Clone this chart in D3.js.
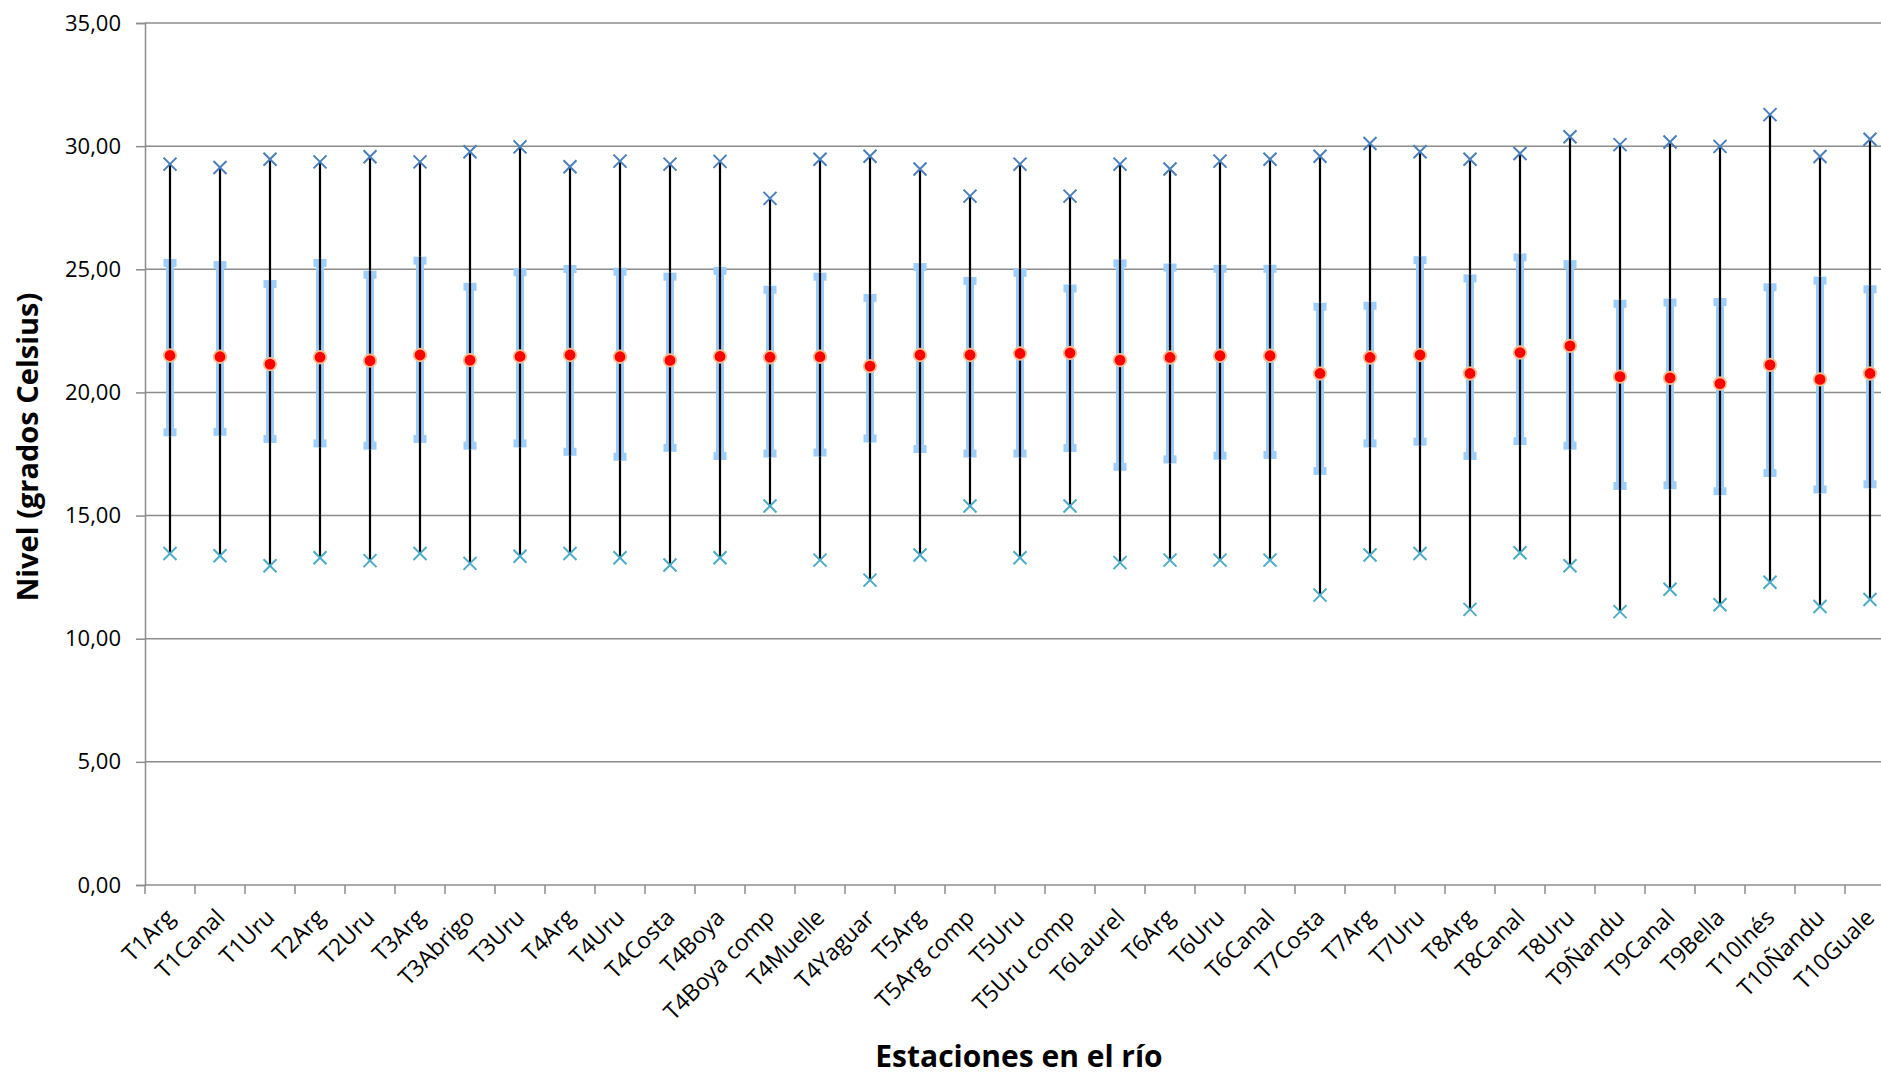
<!DOCTYPE html>
<html>
<head>
<meta charset="utf-8">
<script src="https://cdn.jsdelivr.net/npm/d3@7"></script>
<style>
  html, body { margin: 0; padding: 0; background: #fff; }
  svg { display: block; }
</style>
</head>
<body>
<svg id="chart" width="1881" height="1078"></svg>
<script>
const categories = ["T1Arg","T1Canal","T1Uru","T2Arg","T2Uru","T3Arg","T3Abrigo","T3Uru","T4Arg","T4Uru","T4Costa","T4Boya","T4Boya comp","T4Muelle","T4Yaguar","T5Arg","T5Arg comp","T5Uru","T5Uru comp","T6Laurel","T6Arg","T6Uru","T6Canal","T7Costa","T7Arg","T7Uru","T8Arg","T8Canal","T8Uru","T9Ñandu","T9Canal","T9Bella","T10Inés","T10Ñandu","T10Guale"];

const maxValues = [29.27,29.13,29.47,29.36,29.57,29.36,29.77,29.97,29.16,29.39,29.27,29.38,27.88,29.47,29.59,29.07,27.97,29.27,27.97,29.27,29.07,29.39,29.47,29.59,30.11,29.77,29.47,29.70,30.38,30.06,30.17,29.99,31.28,29.58,30.28];
const q3Values = [25.26,25.17,24.40,25.26,24.78,25.35,24.29,24.88,25.01,24.90,24.70,24.94,24.17,24.70,23.84,25.09,24.53,24.86,24.22,25.24,25.07,25.02,25.02,23.48,23.52,25.37,24.63,25.48,25.21,23.60,23.65,23.67,24.27,24.54,24.19];
const meanValues = [21.50,21.45,21.15,21.43,21.29,21.52,21.31,21.46,21.52,21.45,21.30,21.46,21.43,21.45,21.07,21.52,21.52,21.58,21.60,21.31,21.42,21.49,21.49,20.77,21.42,21.52,20.77,21.62,21.89,20.64,20.59,20.36,21.12,20.53,20.77];
const q1Values = [18.38,18.40,18.11,17.93,17.84,18.11,17.84,17.93,17.59,17.39,17.75,17.42,17.52,17.56,18.13,17.70,17.52,17.52,17.74,16.98,17.28,17.43,17.46,16.81,17.93,18.00,17.42,18.02,17.84,16.20,16.23,15.99,16.73,16.06,16.27];
const minValues = [13.46,13.37,12.96,13.29,13.17,13.46,13.06,13.35,13.46,13.29,12.99,13.29,15.39,13.19,12.38,13.40,15.39,13.29,15.39,13.09,13.19,13.19,13.19,11.77,13.40,13.46,11.19,13.49,12.96,11.10,12.01,11.38,12.29,11.31,11.59];
const yTicks = [0,5,10,15,20,25,30,35];

const data = categories.map((c, i) => ({
  cat: c, max: maxValues[i], q3: q3Values[i], mean: meanValues[i], q1: q1Values[i], min: minValues[i]
}));

const svg = d3.select("#chart");
const plotLeft = 145, step = 50, plotTop = 23, plotBottom = 885;
const plotRight = plotLeft + step * categories.length;

const x = d3.scaleBand().domain(categories).range([plotLeft, plotRight]).padding(0);
const y = d3.scaleLinear().domain([0, 35]).range([plotBottom, plotTop]);
const cx = d => x(d.cat) + x.bandwidth() / 2;

const FONT = "'Open Sans', 'DejaVu Sans', sans-serif";
const gridColor = "#8c8c8c";

// gridlines
svg.append("g").selectAll("line").data(yTicks.filter(t => t > 0)).join("line")
  .attr("x1", plotLeft).attr("x2", plotRight)
  .attr("y1", d => y(d)).attr("y2", d => y(d))
  .attr("stroke", gridColor).attr("stroke-width", 1.5);

// Y axis
const yAxis = svg.append("g").attr("transform", `translate(${plotLeft},0)`)
  .call(d3.axisLeft(y).tickValues(yTicks).tickSize(9).tickPadding(15)
    .tickFormat(d => d3.format(".2f")(d).replace(".", ",")));
yAxis.select(".domain").attr("stroke", gridColor).attr("stroke-width", 1.5);
yAxis.selectAll(".tick line").attr("stroke", gridColor).attr("stroke-width", 1.5);
yAxis.selectAll(".tick text").attr("font-family", FONT).attr("font-size", 22).attr("fill", "#000");

// X axis
const xAxis = svg.append("g").attr("transform", `translate(0,${plotBottom})`)
  .call(d3.axisBottom(x).tickSize(0).tickPadding(0));
xAxis.select(".domain").remove();
svg.append("line").attr("x1", plotLeft).attr("x2", plotRight).attr("y1", plotBottom).attr("y2", plotBottom)
  .attr("stroke", gridColor).attr("stroke-width", 1.5);
const tickPos = categories.map(c => x(c)).concat([plotRight]);
svg.append("g").selectAll("line").data(tickPos).join("line")
  .attr("x1", d => d).attr("x2", d => d).attr("y1", plotBottom).attr("y2", plotBottom + 9)
  .attr("stroke", gridColor).attr("stroke-width", 1.5);
xAxis.selectAll(".tick text")
  .attr("font-family", FONT).attr("font-size", 23).attr("fill", "#000")
  .attr("text-anchor", "end").attr("dy", 0).attr("y", 0)
  .attr("transform", "translate(6,34) rotate(-45)");

// whisker lines (min to max)
svg.append("g").selectAll("line").data(data).join("line")
  .attr("x1", cx).attr("x2", cx)
  .attr("y1", d => y(d.min)).attr("y2", d => y(d.max))
  .attr("stroke", "#000").attr("stroke-width", 2.2);

// quartile bars (light blue) with caps
const qb = svg.append("g");
qb.selectAll("rect.bar").data(data).join("rect").attr("class", "bar")
  .attr("x", d => cx(d) - 4).attr("width", 8)
  .attr("y", d => y(d.q3)).attr("height", d => y(d.q1) - y(d.q3))
  .attr("fill", "#9dcdfb");
qb.selectAll("rect.capt").data(data).join("rect").attr("class", "capt")
  .attr("x", d => cx(d) - 6.5).attr("width", 13)
  .attr("y", d => y(d.q3) - 4).attr("height", 8)
  .attr("fill", "#9dcdfb");
qb.selectAll("rect.capb").data(data).join("rect").attr("class", "capb")
  .attr("x", d => cx(d) - 6.5).attr("width", 13)
  .attr("y", d => y(d.q1) - 4).attr("height", 8)
  .attr("fill", "#9dcdfb");

// black line on top of bars
svg.append("g").selectAll("line").data(data).join("line")
  .attr("x1", cx).attr("x2", cx)
  .attr("y1", d => y(d.q1) + 4).attr("y2", d => y(d.q3) - 4)
  .attr("stroke", "#000").attr("stroke-width", 2.2);

// X markers
function xMark(g, key, color) {
  const s = 6.5;
  g.selectAll("path").data(data).join("path")
    .attr("d", d => {
      const px = cx(d), py = y(d[key]);
      return `M${px - s},${py - s}L${px + s},${py + s}M${px - s},${py + s}L${px + s},${py - s}`;
    })
    .attr("stroke", color).attr("stroke-width", 2).attr("fill", "none");
}
xMark(svg.append("g"), "max", "#4a7ebb");
xMark(svg.append("g"), "min", "#4bacc6");

// mean dots
svg.append("g").selectAll("circle").data(data).join("circle")
  .attr("cx", cx).attr("cy", d => y(d.mean)).attr("r", 6.3)
  .attr("fill", "#ff0000").attr("stroke", "#f8be8f").attr("stroke-width", 1.8);

// titles
svg.append("text")
  .attr("transform", `translate(38,447) rotate(-90)`)
  .attr("text-anchor", "middle")
  .attr("font-family", FONT).attr("font-weight", "bold").attr("font-size", 29)
  .attr("fill", "#000")
  .text("Nivel (grados Celsius)");

svg.append("text")
  .attr("x", 1019).attr("y", 1067)
  .attr("text-anchor", "middle")
  .attr("font-family", FONT).attr("font-weight", "bold").attr("font-size", 30)
  .attr("fill", "#000")
  .text("Estaciones en el río");
</script>
</body>
</html>
